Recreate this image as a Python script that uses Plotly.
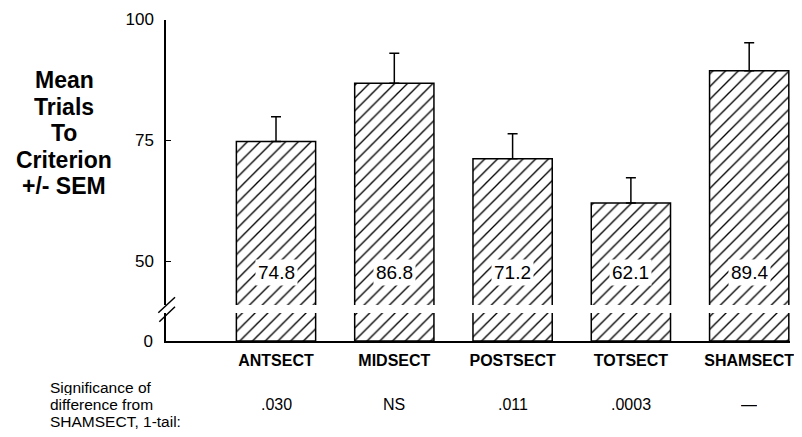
import plotly.graph_objects as go

categories = ["ANTSECT", "MIDSECT", "POSTSECT", "TOTSECT", "SHAMSECT"]
mean_trials = [74.8, 86.8, 71.2, 62.1, 89.4]
sem_upper = [5.1, 6.2, 5.2, 5.2, 5.8]
value_labels = ["74.8", "86.8", "71.2", "62.1", "89.4"]
significance = [".030", "NS", ".011", ".0003", "\u2014"]
y_tick_values = [50, 75, 100]
y_tick_labels = ["50", "75", "100"]
title_lines = ["Mean", "Trials", "To", "Criterion", "+/- SEM"]
sig_caption = ["Significance of", "difference from", "SHAMSECT, 1-tail:"]

# the page body adds an 8px margin; the figure is sized so that it fills the window
OFF = 8
W, H = 802 - OFF, 437 - OFF


def px(x):
    return (x - OFF) / W


def py(y):
    return 1 - (y - OFF) / H


FONT = "Liberation Sans, Arial, Helvetica, sans-serif"

x_dom = [px(166), px(790)]
upper_dom = [py(305), py(19.5)]
lower_dom = [py(341), py(313)]

bar_marker = dict(
    color="white",
    line=dict(color="black", width=1.5),
    pattern=dict(shape="/", fgcolor="black", bgcolor="white", size=9, solidity=0.15),
)

fig = go.Figure()
# lower (broken) part of the bars
fig.add_trace(go.Bar(x=categories, y=mean_trials, xaxis="x", yaxis="y",
                     marker=bar_marker, showlegend=False, hoverinfo="skip"))
# upper part of the bars with SEM
fig.add_trace(go.Bar(x=categories, y=mean_trials, xaxis="x2", yaxis="y2",
                     marker=bar_marker, showlegend=False,
                     error_y=dict(type="data", array=sem_upper,
                                  arrayminus=[0] * len(sem_upper), symmetric=False,
                                  color="black", thickness=1.5, width=5)))

annotations = []
# value labels in bars
for c, lab in zip(categories, value_labels):
    annotations.append(dict(x=c, y=47.8, xref="x2", yref="y2", text=lab,
                            showarrow=False, bgcolor="white", borderpad=2,
                            font=dict(family=FONT, size=19, color="black")))
# y title
title_y = [80, 106.5, 133, 159.5, 186]
for t, yy in zip(title_lines, title_y):
    annotations.append(dict(x=px(64), y=py(yy), xref="paper", yref="paper",
                            text=t, showarrow=False, xanchor="center", yanchor="middle",
                            height=24, borderpad=0,
                            font=dict(family=FONT, size=23, color="black", weight="bold")))
# significance caption
cap_y = [387, 404, 421]
for t, yy in zip(sig_caption, cap_y):
    annotations.append(dict(x=px(49), y=py(yy), xref="paper", yref="paper",
                            text=t, showarrow=False, xanchor="left", yanchor="middle",
                            height=16, borderpad=0,
                            font=dict(family=FONT, size=15.5, color="black")))
for c, s in zip(categories, significance):
    annotations.append(dict(x=c, y=py(404), xref="x", yref="paper", text=s,
                            showarrow=False, yanchor="middle", height=16, borderpad=0,
                            font=dict(family=FONT, size=16, color="black")))

shapes = [
    dict(type="line", xref="paper", yref="paper", x0=px(158.3), y0=py(312.7),
         x1=px(175), y1=py(297.3), line=dict(color="black", width=1.5)),
    dict(type="line", xref="paper", yref="paper", x0=px(159.3), y0=py(321.7),
         x1=px(175), y1=py(306.7), line=dict(color="black", width=1.5)),
]

fig.update_layout(
    template="none",
    width=W, height=H,
    autosize=False,
    margin=dict(l=0, r=0, t=0, b=0, pad=0, autoexpand=False),
    paper_bgcolor="white", plot_bgcolor="white",
    bargap=0.33,
    font=dict(family=FONT, color="black"),
    xaxis=dict(domain=x_dom, anchor="y", type="category", range=[-0.93, 4.345],
               automargin=False,
               showline=True, linecolor="black", linewidth=1.5, showgrid=False,
               zeroline=False, ticks="outside", ticklen=4, tickcolor="rgba(0,0,0,0)",
               tickfont=dict(family=FONT, size=16, color="black", weight="bold")),
    xaxis2=dict(domain=x_dom, anchor="y2", matches="x", showticklabels=False,
                automargin=False,
                showline=False, showgrid=False, zeroline=False, ticks=""),
    yaxis=dict(domain=lower_dom, anchor="x", range=[0, 10], tickvals=[0], ticktext=["0"],
               automargin=False,
               showline=True, linecolor="black", linewidth=1.5, showgrid=False,
               zeroline=False, ticks="", ticklabelstandoff=8,
               tickfont=dict(family=FONT, size=17, color="black")),
    yaxis2=dict(domain=upper_dom, anchor="x2", range=[41.0, 100], tickvals=y_tick_values,
                ticktext=y_tick_labels, automargin=False,
                showline=True, linecolor="black", linewidth=1.5,
                showgrid=False, zeroline=False, ticks="inside", ticklen=5, tickwidth=1.2,
                tickcolor="black", ticklabelstandoff=7,
                tickfont=dict(family=FONT, size=17, color="black")),
    annotations=annotations,
    shapes=shapes,
)

fig.write_html("out.html")
